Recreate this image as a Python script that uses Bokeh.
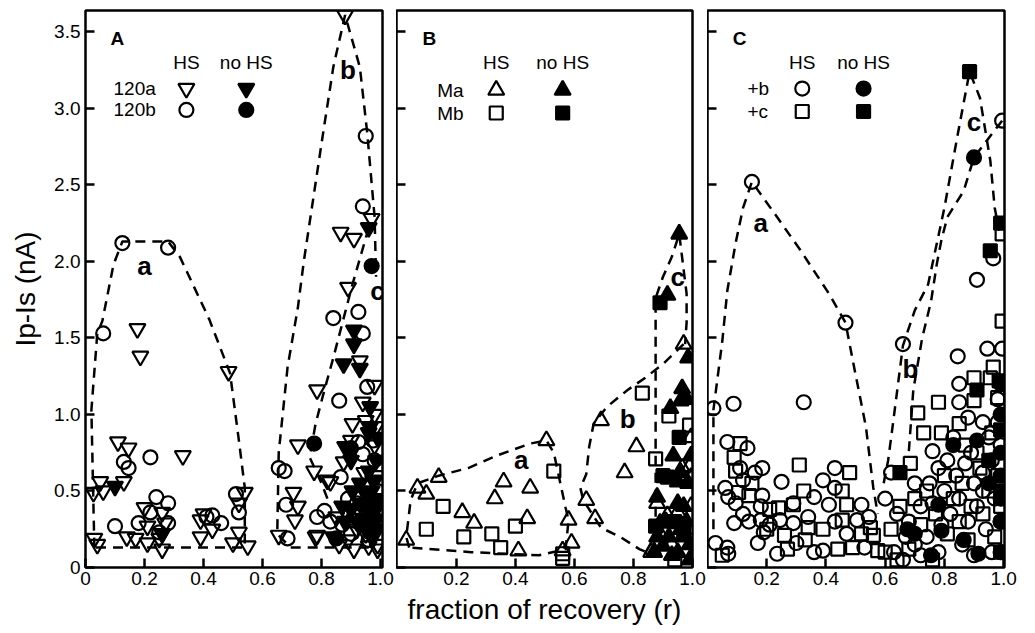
from bokeh.plotting import figure
from bokeh.layouts import row
from bokeh.models import FixedTicker, CustomJSTickFormatter, Range1d
from bokeh.core.properties import value
from bokeh.embed import file_html
from bokeh.resources import INLINE

FONT = "Liberation Sans"
Y_TICKS = [0, 0.5, 1.0, 1.5, 2.0, 2.5, 3.0, 3.5]
X_TICKS_A = [0, 0.2, 0.4, 0.6, 0.8, 1.0]
X_TICKS_BC = [0.2, 0.4, 0.6, 0.8, 1.0]
Y_LABEL = "Ip-Is (nA)"
X_LABEL = "fraction of recovery (r)"
PANEL_LETTERS = ["A", "B", "C"]
LEGEND_HEADERS = ["HS", "no HS"]
LEGEND_ROWS_A = ["120a", "120b"]
LEGEND_ROWS_B = ["Ma", "Mb"]
LEGEND_ROWS_C = ["+b", "+c"]
CURVE_NAMES = ["a", "b", "c"]

# ---------------- Panel A ----------------
A_hs_a_x = [0.027, 0.05, 0.06, 0.13, 0.11, 0.146, 0.33, 0.176, 0.186, 0.03, 0.04, 0.14, 0.17, 0.20, 0.21, 0.21,
            0.26, 0.27, 0.25, 0.26, 0.40, 0.39, 0.43, 0.39, 0.485, 0.54, 0.52, 0.52, 0.50, 0.55,
            0.88, 0.865, 0.91, 0.97, 0.89, 0.93, 0.785, 0.98, 0.94, 0.905, 0.95, 0.98, 0.72, 0.775, 0.90,
            0.875, 0.82, 0.705, 0.72, 0.71, 0.655, 0.785, 0.83, 0.78,
            0.86, 0.89, 0.92, 0.95, 0.97, 0.99, 0.99, 0.96, 0.93, 0.88, 0.99, 0.98, 0.945, 0.99, 0.91, 0.96, 0.85, 0.985]
A_hs_a_y = [0.49, 0.56, 0.50, 0.56, 0.82, 0.78, 0.73, 1.56, 1.38, 0.19, 0.15, 0.20, 0.19, 0.39, 0.16, 0.27,
            0.36, 0.29, 0.19, 0.12, 0.35, 0.31, 0.25, 0.20, 1.28, 0.49, 0.42, 0.23, 0.16, 0.14,
            3.61, 2.19, 2.15, 2.28, 1.83, 1.35, 1.16, 1.19, 1.08, 0.94, 0.96, 1.00, 0.80, 0.63, 0.83,
            0.69, 0.57, 0.49, 0.40, 0.31, 0.21, 0.21, 0.56, 0.20,
            0.15, 0.18, 0.25, 0.22, 0.30, 0.15, 0.35, 0.45, 0.36, 0.38, 0.60, 0.80, 0.62, 0.12, 0.12, 0.14, 0.33, 0.92]
A_hs_b_x = [0.06, 0.125, 0.28, 0.22, 0.13, 0.146, 0.10, 0.18, 0.24, 0.28, 0.22, 0.28, 0.25, 0.41, 0.43, 0.46,
            0.51, 0.52, 0.655, 0.675, 0.68, 0.685,
            0.95, 0.94, 0.84, 0.925, 0.94, 0.86, 0.955, 0.925, 0.975, 0.94, 0.865, 0.98, 0.785, 0.81,
            0.83, 0.87, 0.90, 0.95, 0.97, 0.99, 0.92, 0.96, 0.89]
A_hs_b_y = [1.53, 2.12, 2.09, 0.72, 0.69, 0.65, 0.27, 0.29, 0.46, 0.42, 0.36, 0.29, 0.23, 0.33, 0.34, 0.29,
            0.48, 0.36, 0.65, 0.63, 0.41, 0.19,
            2.82, 2.36, 1.63, 1.67, 1.53, 1.09, 1.18, 0.82, 0.83, 0.74, 0.59, 0.70, 0.33, 0.37,
            0.30, 0.28, 0.22, 0.30, 0.40, 0.50, 0.42, 0.18, 0.45]
A_nohs_a_x = [0.10, 0.26, 0.96, 0.91, 0.91, 0.875, 0.93, 0.965, 0.965, 0.88, 0.96, 0.90, 0.905, 0.96, 0.975,
              0.84, 0.87, 0.90, 0.93, 0.95, 0.97, 0.99, 0.94, 0.96, 0.98, 0.99, 0.92, 0.95, 0.97, 0.99,
              0.88, 0.93, 0.985, 0.99, 0.95, 0.97]
A_nohs_a_y = [0.53, 0.22, 2.22, 1.55, 1.46, 1.33, 1.30, 1.05, 0.92, 0.79, 0.88, 0.70, 0.50, 0.63, 0.57,
              0.20, 0.40, 0.38, 0.42, 0.48, 0.50, 0.45, 0.32, 0.35, 0.30, 0.25, 0.30, 0.25, 0.20, 0.40,
              0.30, 0.55, 0.70, 0.85, 0.40, 0.45]
A_nohs_b_x = [0.97, 0.775, 0.90, 0.85, 0.96, 0.98, 0.94]
A_nohs_b_y = [1.97, 0.81, 0.78, 0.19, 0.38, 0.32, 0.28]

A_curve_a_x = [0.03, 0.02, 0.04, 0.057, 0.095, 0.125, 0.28, 0.32, 0.42, 0.49, 0.52, 0.54, 0.54, 0.03]
A_curve_a_y = [0.13, 1.03, 1.53, 1.61, 1.98, 2.13, 2.13, 2.03, 1.62, 1.27, 0.83, 0.52, 0.13, 0.13]
A_curve_b_x = [0.96, 0.695, 0.65, 0.655, 0.685, 0.72, 0.74, 0.80, 0.84, 0.88, 0.93, 0.955, 0.98, 0.985]
A_curve_b_y = [0.13, 0.13, 0.22, 0.75, 1.31, 1.70, 2.00, 2.77, 3.27, 3.61, 3.27, 2.84, 2.29, 1.90]
A_curve_c_x = [0.82, 0.80, 0.76, 0.78, 0.81, 0.84, 0.905, 0.96]
A_curve_c_y = [0.45, 0.55, 0.72, 0.94, 1.16, 1.37, 1.85, 2.22]
A_label_x = [0.20, 0.89, 0.99]
A_label_y = [1.97, 3.25, 1.81]

# ---------------- Panel B ----------------
B_hs_a_x = [0.03, 0.068, 0.098, 0.14, 0.22, 0.26, 0.33, 0.36, 0.45, 0.44, 0.41, 0.505, 0.58, 0.59, 0.56,
            0.64, 0.67, 0.69, 0.81, 0.77, 0.865, 0.97, 0.965, 0.995, 0.96, 0.88, 0.95, 0.995, 0.915, 0.86,
            0.995, 0.99, 0.995, 0.97, 0.93, 0.89]
B_hs_a_y = [0.18, 0.52, 0.48, 0.59, 0.36, 0.29, 0.45, 0.56, 0.52, 0.32, 0.11, 0.83, 0.31, 0.16, 0.11,
            0.44, 0.32, 0.96, 0.79, 0.62, 0.12, 1.46, 0.65, 0.59, 0.60, 0.42, 0.36, 0.40, 0.34, 0.10,
            0.85, 0.66, 0.25, 0.20, 0.15, 0.22]
B_hs_b_x = [0.155, 0.098, 0.225, 0.32, 0.40, 0.35, 0.53, 0.56, 0.83, 0.92, 0.99, 0.875, 0.94, 0.56]
B_hs_b_y = [0.40, 0.25, 0.20, 0.22, 0.27, 0.13, 0.63, 0.09, 1.14, 0.99, 0.93, 0.71, 0.05, 0.06]
B_nohs_a_x = [0.955, 0.915, 0.985, 0.965, 0.96, 0.98, 0.925, 0.935, 0.995, 0.95, 0.88, 0.95, 0.89, 0.88,
              0.90, 1.0, 0.96, 0.98, 0.99, 0.95, 0.92, 0.97, 0.99, 0.985, 0.91, 0.93, 0.96, 0.87]
B_nohs_a_y = [2.18, 1.78, 1.37, 1.17, 1.09, 1.10, 1.04, 0.73, 0.73, 0.56, 0.46, 0.42, 0.29, 0.20,
              0.14, 0.06, 0.25, 0.30, 0.15, 0.10, 0.20, 0.40, 0.05, 0.55, 0.30, 0.08, 0.62, 0.10]
B_nohs_b_x = [0.89, 0.955, 0.90, 0.915, 0.875, 0.97, 0.94]
B_nohs_b_y = [1.73, 0.85, 0.60, 0.59, 0.27, 0.22, 0.30]

B_curve_a_x = [0.04, 0.03, 0.045, 0.068, 0.14, 0.24, 0.335, 0.45, 0.505, 0.53, 0.55, 0.57, 0.58, 0.57, 0.48, 0.25, 0.04]
B_curve_a_y = [0.13, 0.20, 0.44, 0.55, 0.60, 0.65, 0.73, 0.81, 0.83, 0.75, 0.57, 0.39, 0.31, 0.12, 0.08, 0.10, 0.13]
B_curve_b_x = [0.97, 0.90, 0.84, 0.78, 0.71, 0.665, 0.65, 0.64, 0.62, 0.63, 0.69, 0.755, 0.82, 0.88]
B_curve_b_y = [1.46, 1.33, 1.24, 1.16, 1.05, 0.94, 0.79, 0.61, 0.52, 0.44, 0.26, 0.20, 0.12, 0.07]
B_curve_c_x = [0.875, 0.875, 0.90, 0.93, 0.955, 0.98, 0.98, 0.975]
B_curve_c_y = [0.22, 1.76, 1.90, 2.03, 2.18, 1.79, 1.60, 1.46]
B_label_x = [0.42, 0.78, 0.95]
B_label_y = [0.70, 0.97, 1.90]

# ---------------- Panel C ----------------
C_hs_b_x = [0.15, 0.466, 0.02, 0.088, 0.325, 0.067, 0.135, 0.11, 0.16, 0.185, 0.25, 0.43, 0.06, 0.39, 0.43,
            0.12, 0.07, 0.185, 0.095, 0.12, 0.18, 0.29, 0.36, 0.41, 0.52, 0.09, 0.18, 0.245, 0.29, 0.43,
            0.505, 0.545, 0.19, 0.027, 0.067, 0.07, 0.17, 0.235, 0.30, 0.36, 0.39, 0.53, 0.14, 0.21, 0.34, 0.47,
            0.995, 0.965, 0.91, 0.66, 0.845, 0.945, 0.995, 0.85, 0.85, 0.88, 0.93, 0.76, 0.62, 0.60, 0.64,
            0.68, 0.72, 0.75, 0.78, 0.81, 0.84, 0.87, 0.90, 0.93, 0.96, 0.99, 0.98, 0.63, 0.66, 0.70, 0.74,
            0.78, 0.82, 0.85, 0.88, 0.91, 0.94, 0.97, 0.99, 0.96, 0.86, 0.90, 0.79, 0.72, 0.67, 0.76, 0.95,
            0.83, 0.98, 0.93, 0.89, 0.80, 0.70]
C_hs_b_y = [2.52, 1.60, 1.04, 1.07, 1.08, 0.82, 0.78, 0.65, 0.62, 0.65, 0.56, 0.65, 0.52, 0.57, 0.52,
            0.57, 0.46, 0.47, 0.42, 0.35, 0.40, 0.42, 0.46, 0.41, 0.41, 0.29, 0.31, 0.31, 0.29, 0.30,
            0.31, 0.33, 0.23, 0.16, 0.13, 0.09, 0.16, 0.09, 0.16, 0.10, 0.11, 0.13, 0.30, 0.28, 0.33, 0.22,
            2.92, 2.02, 1.88, 1.46, 1.38, 1.43, 1.43, 1.20, 1.08, 0.98, 0.95, 0.76, 0.62, 0.45, 0.35,
            0.30, 0.40, 0.55, 0.65, 0.70, 0.60, 0.68, 0.55, 0.62, 0.70, 0.80, 0.95, 0.10, 0.05, 0.15, 0.20,
            0.10, 0.35, 0.45, 0.30, 0.40, 0.25, 0.45, 0.30, 0.10, 0.15, 0.08, 0.28, 0.08, 0.20, 0.42, 0.85,
            0.85, 1.10, 0.50, 0.75, 0.50, 0.55]
C_hs_c_x = [0.11, 0.09, 0.095, 0.31, 0.48, 0.325, 0.455, 0.105, 0.14, 0.21, 0.24, 0.29, 0.47, 0.34, 0.39,
            0.455, 0.55, 0.26, 0.05, 0.27, 0.33, 0.44, 0.49, 0.575, 0.52, 0.56, 0.15, 0.20,
            0.995, 0.995, 0.965, 0.90, 0.955, 0.90, 0.98, 0.78, 0.71, 0.85, 0.73, 0.79, 0.685, 0.65, 0.70,
            0.74, 0.77, 0.80, 0.83, 0.86, 0.89, 0.92, 0.95, 0.98, 0.62, 0.68, 0.72, 0.76, 0.81, 0.85, 0.88,
            0.93, 0.97, 0.99, 0.64, 0.91, 0.96, 0.87, 0.60]
C_hs_c_y = [0.81, 0.72, 0.63, 0.67, 0.62, 0.50, 0.50, 0.49, 0.47, 0.38, 0.39, 0.41, 0.41, 0.26, 0.25,
            0.31, 0.26, 0.21, 0.08, 0.12, 0.18, 0.12, 0.13, 0.11, 0.22, 0.21, 0.55, 0.25,
            2.18, 1.61, 1.31, 1.24, 1.24, 1.09, 1.11, 1.08, 1.01, 0.94, 0.88, 0.88, 0.68, 0.40, 0.45,
            0.50, 0.35, 0.60, 0.45, 0.55, 0.40, 0.65, 0.50, 0.60, 0.25, 0.12, 0.28, 0.05, 0.22, 0.30, 0.18,
            0.35, 0.20, 0.40, 0.05, 0.75, 0.88, 0.80, 0.10]
C_nohs_b_x = [0.90, 0.675, 0.79, 0.755, 0.83, 0.91, 0.78, 0.915, 0.865, 0.99, 0.99, 0.99, 0.99, 0.99,
              0.99, 0.99, 0.70, 0.95]
C_nohs_b_y = [2.68, 0.25, 0.24, 0.08, 0.80, 0.83, 0.41, 0.09, 0.18, 1.20, 1.00, 0.75, 0.60, 0.45,
              0.30, 0.10, 0.22, 0.55]
C_nohs_c_x = [0.885, 0.99, 0.955, 0.91, 0.985, 0.65, 0.99, 0.99, 0.95, 0.99]
C_nohs_c_y = [3.24, 2.25, 2.07, 1.16, 1.22, 0.62, 0.90, 0.10, 0.70, 0.50]

C_curve_a_x = [0.02, 0.02, 0.05, 0.067, 0.095, 0.12, 0.15, 0.235, 0.315, 0.41, 0.466, 0.495, 0.535, 0.56, 0.575]
C_curve_a_y = [0.25, 1.03, 1.48, 1.81, 2.12, 2.35, 2.52, 2.29, 2.07, 1.79, 1.60, 1.31, 0.92, 0.52, 0.35]
C_curve_b_x = [0.68, 0.695, 0.725, 0.755, 0.775, 0.79, 0.81, 0.865, 0.90, 0.995]
C_curve_b_y = [0.76, 1.16, 1.50, 1.74, 1.99, 2.14, 2.29, 2.46, 2.68, 2.92]
C_curve_c_x = [0.595, 0.61, 0.625, 0.66, 0.70, 0.745, 0.80, 0.845, 0.885, 0.92, 0.955, 0.97, 0.985]
C_curve_c_y = [0.55, 0.70, 0.92, 1.45, 1.68, 1.85, 2.35, 2.83, 3.24, 3.07, 2.66, 2.35, 2.20]
C_label_x = [0.18, 0.685, 0.90]
C_label_y = [2.25, 1.30, 2.91]

Y_MAX = 3.64
CIRCLE_SIZE = 14
TRI_SIZE = 16
SQUARE_SIZE = 13

fmt_js = "return tick == 0 ? '0' : tick.toFixed(1);"


def make_panel(x0, x1, width, b_left, b_right, xticks, show_ylab, xlabel="", ylabel=""):
    p = figure(width=width, height=633, x_range=Range1d(x0, x1), y_range=Range1d(0, Y_MAX),
               output_backend="svg", toolbar_location=None,
               min_border_left=b_left, min_border_right=b_right, min_border_top=10, min_border_bottom=66)
    p.background_fill_color = "white"
    p.border_fill_color = "white"
    p.outline_line_color = "black"
    p.outline_line_width = 2.5
    p.xgrid.grid_line_color = None
    p.ygrid.grid_line_color = None
    for ax in (p.xaxis[0], p.yaxis[0]):
        ax.axis_line_color = None
        ax.major_tick_in = 9
        ax.major_tick_out = 0
        ax.major_tick_line_width = 2.5
        ax.major_tick_line_color = "black"
        ax.minor_tick_line_color = None
        ax.major_label_text_font = FONT
        ax.major_label_text_font_size = "19px"
        ax.major_label_text_color = "black"
        ax.axis_label_text_font = FONT
        ax.axis_label_text_font_size = "28px"
        ax.axis_label_text_font_style = "normal"
        ax.axis_label_text_color = "black"
    xa = p.xaxis[0]
    xa.ticker = FixedTicker(ticks=xticks)
    xa.formatter = CustomJSTickFormatter(code=fmt_js)
    xa.major_label_standoff = 4
    if xlabel:
        xa.axis_label = xlabel
        xa.axis_label_standoff = 6
    ya = p.yaxis[0]
    ya.ticker = FixedTicker(ticks=Y_TICKS)
    if show_ylab:
        ya.formatter = CustomJSTickFormatter(code=fmt_js)
        ya.major_label_standoff = 5
        ya.axis_label = ylabel
        ya.axis_label_standoff = 10
    else:
        ya.formatter = CustomJSTickFormatter(code="return '';")
        ya.major_label_text_font_size = "0px"
        ya.major_label_standoff = 0
    return p


def add_markers(p, xs, ys, marker, size, filled):
    p.scatter(x=xs, y=ys, marker=marker, size=size, line_color="black", line_width=2.2,
              fill_color="black" if filled else None)


def add_curve(p, xs, ys):
    p.line(x=xs, y=ys, line_color="black", line_width=2.5, line_dash="10 7")


def add_text(p, xs, ys, texts, size, bold=False, align="center"):
    p.text(x=xs, y=ys, text=texts, text_font=value(FONT), text_font_size=value(size),
           text_font_style="bold" if bold else "normal", text_align=align,
           text_baseline="middle", text_color="black")


def add_legend(p, letter, rows, hs_x, nohs_x, row_x, markers, sizes, row_y):
    add_text(p, [0.085], [3.46], [letter], "19px", bold=True, align="left")
    add_text(p, [hs_x, nohs_x], [3.30, 3.30], LEGEND_HEADERS, "19px")
    add_text(p, [row_x, row_x], row_y, rows, "19px", align="left")
    for i in range(2):
        add_markers(p, [hs_x], [row_y[i]], markers[i], sizes[i], False)
        add_markers(p, [nohs_x], [row_y[i]], markers[i], sizes[i], True)


# Panel A
pA = make_panel(0, 297 / 295, 396, 85, 14, X_TICKS_A, True, ylabel=Y_LABEL)
for cx, cy in [(A_curve_a_x, A_curve_a_y), (A_curve_b_x, A_curve_b_y), (A_curve_c_x, A_curve_c_y)]:
    add_curve(pA, cx, cy)
add_markers(pA, A_hs_a_x, A_hs_a_y, "inverted_triangle", TRI_SIZE, False)
add_markers(pA, A_hs_b_x, A_hs_b_y, "circle", CIRCLE_SIZE, False)
add_markers(pA, A_nohs_a_x, A_nohs_a_y, "inverted_triangle", TRI_SIZE, True)
add_markers(pA, A_nohs_b_x, A_nohs_b_y, "circle", CIRCLE_SIZE, True)
add_text(pA, A_label_x, A_label_y, CURVE_NAMES, "26px", bold=True)
add_legend(pA, PANEL_LETTERS[0], LEGEND_ROWS_A, 0.342, 0.545, 0.095,
           ["inverted_triangle", "circle"], [TRI_SIZE, CIRCLE_SIZE], [3.13, 2.99])

# Panel B
pB = make_panel(-0.003, 1.0, 311, 0, 15, X_TICKS_BC, False, xlabel=X_LABEL)
for cx, cy in [(B_curve_a_x, B_curve_a_y), (B_curve_b_x, B_curve_b_y), (B_curve_c_x, B_curve_c_y)]:
    add_curve(pB, cx, cy)
add_markers(pB, B_hs_a_x, B_hs_a_y, "triangle", TRI_SIZE, False)
add_markers(pB, B_hs_b_x, B_hs_b_y, "square", SQUARE_SIZE, False)
add_markers(pB, B_nohs_a_x, B_nohs_a_y, "triangle", TRI_SIZE, True)
add_markers(pB, B_nohs_b_x, B_nohs_b_y, "square", SQUARE_SIZE, True)
add_text(pB, B_label_x, B_label_y, CURVE_NAMES, "26px", bold=True)
add_legend(pB, PANEL_LETTERS[1], LEGEND_ROWS_B, 0.335, 0.56, 0.135,
           ["triangle", "square"], [TRI_SIZE, SQUARE_SIZE], [3.12, 2.97])

# Panel C
pC = make_panel(0, 1.003, 328, 0, 31, X_TICKS_BC, False)
for cx, cy in [(C_curve_a_x, C_curve_a_y), (C_curve_b_x, C_curve_b_y), (C_curve_c_x, C_curve_c_y)]:
    add_curve(pC, cx, cy)
add_markers(pC, C_hs_b_x, C_hs_b_y, "circle", CIRCLE_SIZE, False)
add_markers(pC, C_hs_c_x, C_hs_c_y, "square", SQUARE_SIZE, False)
add_markers(pC, C_nohs_b_x, C_nohs_b_y, "circle", CIRCLE_SIZE, True)
add_markers(pC, C_nohs_c_x, C_nohs_c_y, "square", SQUARE_SIZE, True)
add_text(pC, C_label_x, C_label_y, CURVE_NAMES, "26px", bold=True)
add_legend(pC, PANEL_LETTERS[2], LEGEND_ROWS_C, 0.32, 0.527, 0.135,
           ["circle", "square"], [CIRCLE_SIZE, SQUARE_SIZE], [3.13, 2.98])

layout = row(pA, pB, pC)
open("out.html", "w").write(file_html(layout, INLINE))
